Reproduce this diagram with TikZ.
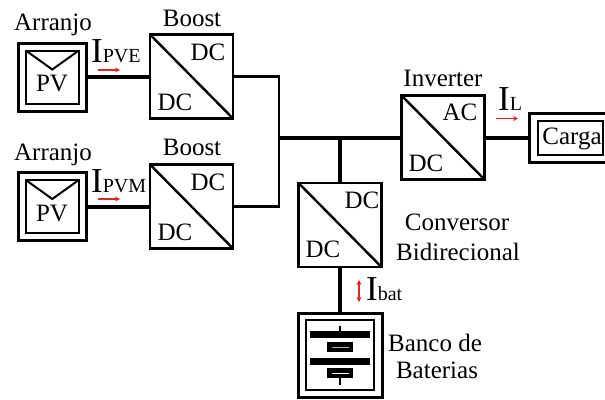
\documentclass[tikz,border=0pt]{standalone}
\usepackage{fontspec}
\setmainfont{Liberation Serif}
\usetikzlibrary{arrows.meta}
\definecolor{redarrow}{RGB}{222,40,36}
\tikzset{
  x=1pt,y=-1pt,
  txt/.style={inner sep=0pt,font=\fontsize{25}{26}\selectfont,align=center},
  conv/.style={draw=black,line width=2.6pt,minimum width=83pt,minimum height=84pt,inner sep=0pt,outer sep=0pt},
  diag/.style={draw=black,line width=2.4pt},
  outerbox/.style={draw=black,line width=3pt,inner sep=0pt,outer sep=0pt},
  innerbox/.style={draw=black,line width=2pt,inner sep=0pt,outer sep=0pt},
  thick wire/.style={draw=black,line width=4pt},
  thin wire/.style={draw=black,line width=2.8pt},
  cur/.style={inner sep=0pt,anchor=base west,font=\fontsize{35}{35}\selectfont},
  curarrow/.style={draw=redarrow,line width=1.5pt,-{Stealth[length=5pt,width=5pt]}},
  curarrows/.style={draw=redarrow,line width=1.5pt,{Stealth[length=5pt,width=5pt]}-{Stealth[length=5pt,width=5pt]}},
}
\newcommand{\subf}{\fontsize{20}{20}\selectfont}
\begin{document}
\begin{tikzpicture}
\useasboundingbox (0,0) rectangle (605,399);
% PV arrays
\foreach \n/\yy in {pa/77,pb/206.5}{
  \node[outerbox,minimum width=68pt,minimum height=68pt] (\n) at (52,\yy) {};
  \node[innerbox,minimum width=53pt,minimum height=53pt] (\n i) at (52.3,\yy) {};
  \draw[line width=2pt,line join=miter] (\n i.north west) -- ([yshift=-19pt]\n i.north) -- (\n i.north east);
  \node[txt] (\n t) at (52,\yy+7) {PV};
}
\node[txt] (arr1) at (53,25) {Arranjo};
\node[txt] (arr2) at (53,155) {Arranjo};
% Boost converters
\node[conv] (b1) at (191.5,76.5) {};
\node[conv] (b2) at (191.5,206.5) {};
\node[conv] (inv) at (443,137.5) {};
\node[conv] (bd) at (340,225) {};
\draw[diag] (b1.north west) -- (b1.south east);
\draw[diag] (b2.north west) -- (b2.south east);
\draw[diag] (inv.north west) -- (inv.south east);
\draw[diag] (bd.north west) -- (bd.south east);
\node[txt] (b1t) at (192,18) {Boost};
\node[txt] (b2t) at (192,147.5) {Boost};
\node[txt] (b1a) at (208,52) {DC};
\node[txt] (b1b) at (175,102) {DC};
\node[txt] (b2a) at (208,182) {DC};
\node[txt] (b2b) at (175,232) {DC};
\node[txt] (invt) at (443,78) {Inverter};
\node[txt] (inva) at (460,112) {AC};
\node[txt] (invb) at (426,163) {DC};
\node[txt] (bda) at (362,200) {DC};
\node[txt] (bdb) at (323,249) {DC};
\node[txt] (bdt1) at (457,222.5) {Conversor};
\node[txt] (bdt2) at (458,252) {Bidirecional};
% Load
\node[outerbox,minimum width=77pt,minimum height=49pt] (load) at (567.5,138) {};
\node[innerbox,minimum width=65pt,minimum height=34pt] (loadi) at (570,138) {};
\node[txt] (loadt) at (572,139) {Carga};
% Battery
\node[outerbox,minimum width=84pt,minimum height=84pt] (bat) at (340,355.5) {};
\node[innerbox,minimum width=68pt,minimum height=70pt] (bati) at (340,355) {};
\fill (310,331) rectangle (370,338);
\fill (310,358) rectangle (370,365);
\draw[line width=2pt] (340,326) -- (340,331);
\draw[line width=2pt] (340,378) -- (340,385);
\fill (327,342) rectangle (353,352);
\fill (327,368) rectangle (353,378);
\draw[line width=1pt,gray!60] (332,347) -- (349,347);
\draw[line width=1pt,white] (332,373.5) -- (349,373.5);
\node[txt] (bt1) at (435,343) {Banco de};
\node[txt] (bt2) at (437,370) {Baterias};
% Connectors
\coordinate (j) at (279,138);
\coordinate (k) at (340,138);
\draw[thick wire] (pa.east) -- (b1.west |- pa.east);
\draw[thick wire] (pb.east) -- (b2.west |- pb.east);
\draw[thin wire,line join=miter] (b1.east) -| (j);
\draw[thin wire,line join=miter] (b2.east) -| (j);
\draw[thick wire] (j) -- (inv.west |- j);
\draw[thick wire] (k) -- (bd.north);
\draw[thick wire] (inv.east) -- (load.west |- inv.east);
\draw[thick wire] (bd.south) -- (bat.north);
% Currents
\node[cur] (ipve) at (91,62) {I\subf PVE};
\node[cur] (ipvm) at (91,192) {I\subf PVM};
\node[cur] (il) at (498,110.5) {I\subf L};
\node[cur] (ibat) at (366,300.5) {I\subf bat};
\draw[curarrow] (97.5,70) -- (120,70);
\draw[curarrow] (97.5,199) -- (120,199);
\draw[curarrow] (496,118.5) -- (518,118.5);
\draw[curarrows] (359,280) -- (359,302);
\end{tikzpicture}
\end{document}
